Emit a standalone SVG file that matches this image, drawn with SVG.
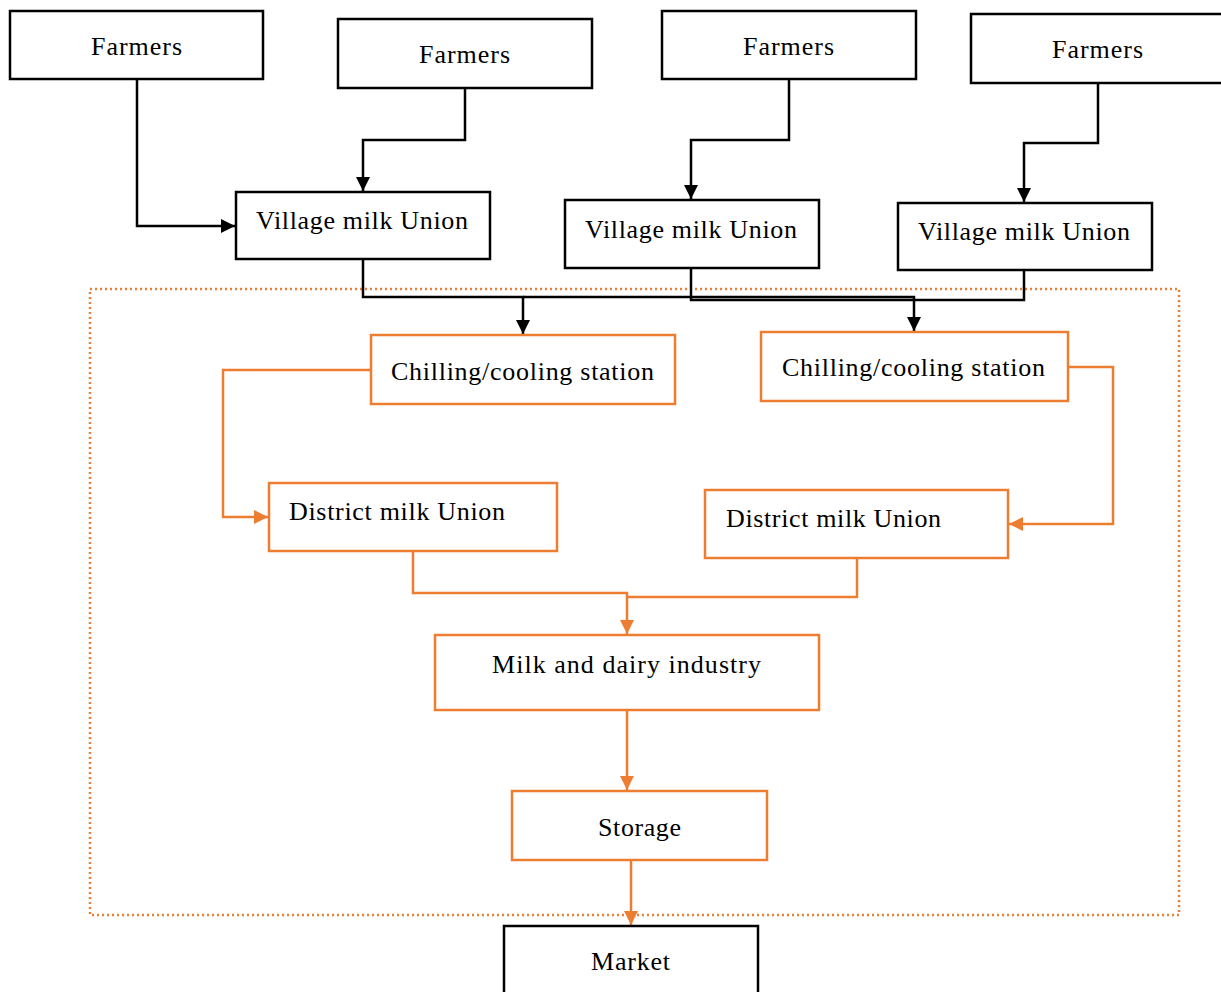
<svg xmlns="http://www.w3.org/2000/svg" width="1221" height="992" viewBox="0 0 1221 992">
<defs>
<style>
.bk{fill:#fff;stroke:#000;stroke-width:2.5}
.or{fill:#fff;stroke:#ED7D31;stroke-width:2.5}
.t{font-family:"Liberation Serif","DejaVu Serif",serif;font-size:26px;fill:#000}
.cb{fill:none;stroke:#000;stroke-width:2.5}
.co{fill:none;stroke:#ED7D31;stroke-width:2.5}
</style>
<marker id="ab" viewBox="0 0 10 10" refX="10" refY="5" markerWidth="5.8" markerHeight="5.6" markerUnits="strokeWidth" orient="auto"><path d="M0,0L10,5L0,10z" fill="#000"/></marker>
<marker id="ao" viewBox="0 0 10 10" refX="10" refY="5" markerWidth="5.8" markerHeight="5.6" markerUnits="strokeWidth" orient="auto"><path d="M0,0L10,5L0,10z" fill="#ED7D31"/></marker>
</defs>
<rect x="90" y="289" width="1089" height="626" fill="none" stroke="#ED7D31" stroke-width="2.5" stroke-dasharray="2,3"/>
<g id="connectors">
<path class="cb" d="M137,79V226H235" marker-end="url(#ab)"/>
<path class="cb" d="M465,88V140H363V191" marker-end="url(#ab)"/>
<path class="cb" d="M789,79V140H691V199" marker-end="url(#ab)"/>
<path class="cb" d="M1098,83V143H1024V202" marker-end="url(#ab)"/>
<path class="cb" d="M363,259V297H523V334" marker-end="url(#ab)"/>
<path class="cb" d="M523,297H914V331" marker-end="url(#ab)"/>
<path class="cb" d="M691,268V300H1024V270"/>
<path class="co" d="M371,370H223V517H268" marker-end="url(#ao)"/>
<path class="co" d="M1068,367H1113V524H1009" marker-end="url(#ao)"/>
<path class="co" d="M413,551V593H627V634" marker-end="url(#ao)"/>
<path class="co" d="M857,558V597H627"/>
<path class="co" d="M627,710V790" marker-end="url(#ao)"/>
<path class="co" d="M631,860V925" marker-end="url(#ao)"/>
</g>
<g id="farmers1"><rect class="bk" x="10" y="11" width="253" height="68"/><text class="t" x="91" y="55" textLength="91">Farmers</text></g>
<g id="farmers2"><rect class="bk" x="338" y="19" width="254" height="69"/><text class="t" x="419" y="63" textLength="91">Farmers</text></g>
<g id="farmers3"><rect class="bk" x="662" y="11" width="254" height="68"/><text class="t" x="743" y="55" textLength="91">Farmers</text></g>
<g id="farmers4"><rect class="bk" x="971" y="14" width="260" height="69"/><text class="t" x="1052" y="58" textLength="91">Farmers</text></g>
<g id="vmu1"><rect class="bk" x="236" y="192" width="254" height="67"/><text class="t" x="256" y="229" textLength="212">Village milk Union</text></g>
<g id="vmu2"><rect class="bk" x="565" y="200" width="254" height="68"/><text class="t" x="585" y="238" textLength="212">Village milk Union</text></g>
<g id="vmu3"><rect class="bk" x="898" y="203" width="254" height="67"/><text class="t" x="918" y="240" textLength="212">Village milk Union</text></g>
<g id="chill1"><rect class="or" x="371" y="335" width="304" height="69"/><text class="t" x="391" y="380" textLength="263">Chilling/cooling station</text></g>
<g id="chill2"><rect class="or" x="761" y="332" width="307" height="69"/><text class="t" x="782" y="376" textLength="263">Chilling/cooling station</text></g>
<g id="district1"><rect class="or" x="269" y="483" width="288" height="68"/><text class="t" x="289" y="520" textLength="216">District milk Union</text></g>
<g id="district2"><rect class="or" x="705" y="490" width="303" height="68"/><text class="t" x="726" y="527" textLength="215">District milk Union</text></g>
<g id="dairy"><rect class="or" x="435" y="635" width="384" height="75"/><text class="t" x="492" y="673" textLength="269">Milk and dairy industry</text></g>
<g id="storage"><rect class="or" x="512" y="791" width="255" height="69"/><text class="t" x="598" y="836" textLength="83">Storage</text></g>
<g id="market"><rect class="bk" x="504" y="926" width="254" height="80"/><text class="t" x="591" y="970" textLength="79">Market</text></g>
</svg>
